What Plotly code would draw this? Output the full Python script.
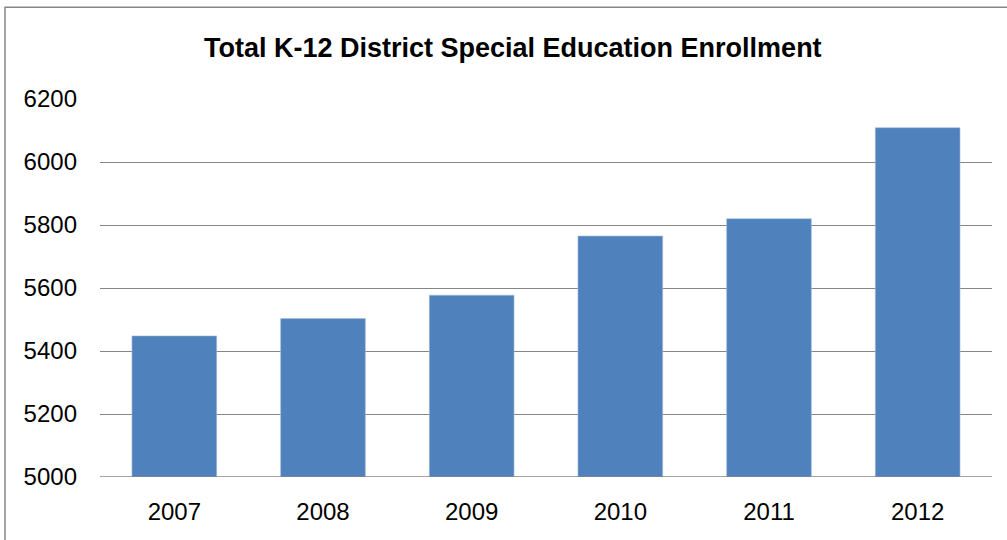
import plotly.graph_objects as go

years = ["2007", "2008", "2009", "2010", "2011", "2012"]
enrollment = [5448, 5503, 5577, 5765, 5820, 6109]
y_ticks = [5000, 5200, 5400, 5600, 5800, 6000, 6200]
title_text = "Total K-12 District Special Education Enrollment"

W, H = 1007, 540
L, R, T, B = 100, 15, 98.5, 62.5
pw = W - L - R
ph = H - T - B

fig = go.Figure()
fig.add_trace(go.Bar(
    x=years, y=enrollment,
    marker=dict(color="#4F81BD", line=dict(color="#A7BFDE", width=0.6)),
    width=0.57,
))

font_main = "Liberation Sans, Arial, sans-serif"

fig.update_layout(
    width=W, height=H,
    margin=dict(l=L, r=R, t=T, b=B, autoexpand=False),
    paper_bgcolor="white", plot_bgcolor="white",
    showlegend=False,
    font=dict(family=font_main, color="black"),
    xaxis=dict(
        type="category", showgrid=False, zeroline=False, showline=False,
        ticks="", tickfont=dict(size=24), ticklabelstandoff=18,
    ),
    yaxis=dict(
        range=[5000, 6200], tickvals=y_ticks, ticktext=[str(v) for v in y_ticks],
        showgrid=True, gridcolor="#868686", gridwidth=1.3, zeroline=False,
        showline=False, ticks="", tickfont=dict(size=24), ticklabelstandoff=22,
    ),
    shapes=[
        dict(type="line", xref="paper", yref="y", x0=0, x1=1, y0=5000, y1=5000,
             line=dict(color="#868686", width=1.3)),
        dict(type="rect", xref="paper", yref="paper",
             x0=(5 - L) / pw, x1=1.1, y0=-0.3, y1=(H - B - 6.5) / ph,
             line=dict(color="#878787", width=1.5), fillcolor="rgba(0,0,0,0)"),
    ],
    annotations=[
        dict(text="<b>" + title_text + "</b>", xref="paper", yref="paper",
             x=(513.3 - L) / pw, y=(H - B - 47) / ph, xanchor="center", yanchor="middle",
             showarrow=False, font=dict(size=27, family=font_main, color="black")),
    ],
)

fig.write_html(
    "out.html",
    config={"displayModeBar": False},
    post_script="document.body.style.margin='0px';document.body.style.padding='0px';",
)
